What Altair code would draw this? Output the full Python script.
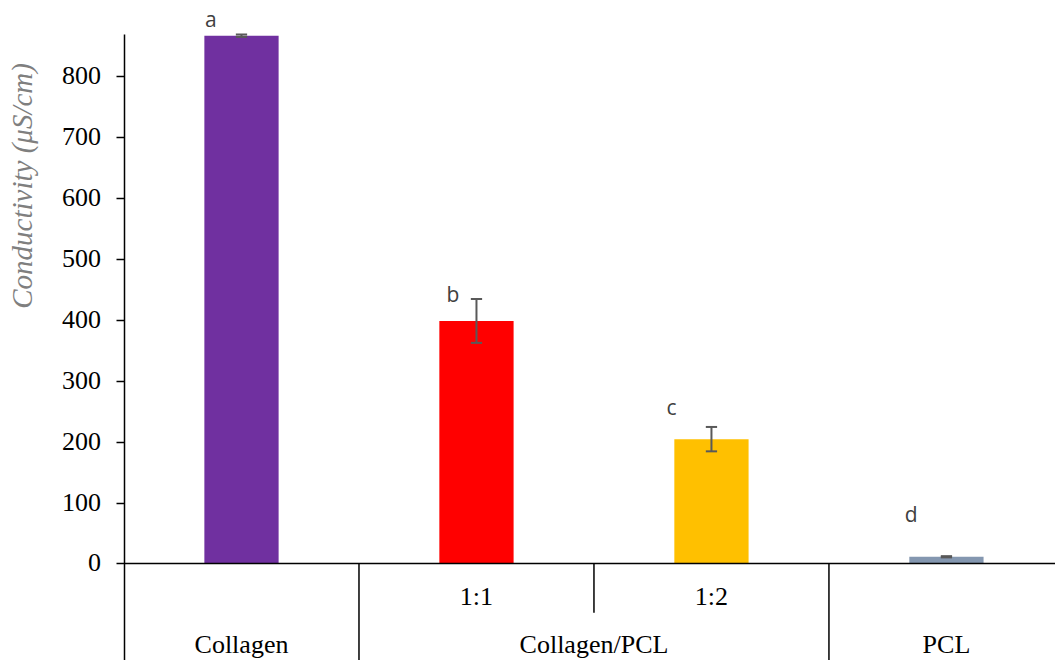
import altair as alt
import pandas as pd

# --- data -------------------------------------------------------------
categories = ["Collagen", "1:1", "1:2", "PCL"]
conductivity = [866, 398, 204, 11]        # µS/cm
error = [2, 36, 20, 1]                    # ± error bar half-length
letters = ["a", "b", "c", "d"]            # significance groups
bar_colors = ["#7030A0", "#FF0000", "#FFC000", "#8497B0"]
y_ticks = [0, 100, 200, 300, 400, 500, 600, 700, 800]
y_title = "Conductivity (μS/cm)"

# two-tier category axis
ratio_labels = ["", "1:1", "1:2", ""]
groups = ["Collagen", "Collagen/PCL", "PCL"]
group_span = [1, 2, 1]

# --- layout constants -------------------------------------------------
Y_MIN, Y_MAX = -158.4, 868.8      # lower part of the y range hosts the category tiers
X_MAX = 3.962                     # one unit per category slot
BAR_HALF = 0.158
CAP_HALF = 0.024
RATIO_ROW_Y = -68
GROUP_ROW_Y = -147
SHORT_DIVIDER_Y = -80.7
TICK_LABEL_X = -0.098             # right edge of the y tick labels
TITLE_X, TITLE_Y = -0.43, 619.5   # centre of the rotated y title
letter_dx = [-0.13, -0.10, -0.17, -0.15]
letter_y = [880, 429, 243, 68]

SERIF = "Liberation Serif"

x_scale = alt.Scale(domain=[0, X_MAX], nice=False, zero=False)
y_scale = alt.Scale(domain=[Y_MIN, Y_MAX], nice=False, zero=False)

# axis draws only the line and the tick marks; its text is drawn as marks below
y_axis = alt.Axis(
    values=y_ticks,
    title="",
    grid=False,
    labels=False,
    domainColor="black",
    domainWidth=1.5,
    tickColor="black",
    tickWidth=1.5,
    tickSize=8,
)


def X(field):
    return alt.X(field, scale=x_scale, axis=None)


def Y(field):
    # every layer shares the same y scale and the same axis definition
    return alt.Y(field, scale=y_scale, axis=y_axis)


bars_df = pd.DataFrame({
    "category": categories,
    "value": conductivity,
    "err": error,
    "letter": letters,
    "pos": [i + 0.5 for i in range(len(categories))],
    "dx": letter_dx,
    "ly": letter_y,
    "base": [0] * len(categories),
})
bars_df["x1"] = bars_df["pos"] - BAR_HALF
bars_df["x2"] = bars_df["pos"] + BAR_HALF
bars_df["lo"] = bars_df["value"] - bars_df["err"]
bars_df["hi"] = bars_df["value"] + bars_df["err"]
bars_df["cl"] = bars_df["pos"] - CAP_HALF
bars_df["cr"] = bars_df["pos"] + CAP_HALF
bars_df["lx"] = bars_df["pos"] + bars_df["dx"]

base = alt.Chart(bars_df)

bars = base.mark_bar().encode(
    x=X("x1:Q"),
    x2="x2:Q",
    y=Y("value:Q"),
    y2="base:Q",
    color=alt.Color("category:N", scale=alt.Scale(domain=categories, range=bar_colors), legend=None),
)

err_color = "#595959"
err_stem = base.mark_rule(color=err_color, strokeWidth=2).encode(
    x=X("pos:Q"), y=Y("lo:Q"), y2="hi:Q",
)
err_cap_hi = base.mark_rule(color=err_color, strokeWidth=2).encode(
    x=X("cl:Q"), x2="cr:Q", y=Y("hi:Q"),
)
err_cap_lo = base.mark_rule(color=err_color, strokeWidth=2).encode(
    x=X("cl:Q"), x2="cr:Q", y=Y("lo:Q"),
)

letter_text = base.mark_text(
    font="Open Sans", fontSize=21, color="#404040", align="center", baseline="alphabetic"
).encode(
    x=X("lx:Q"), y=Y("ly:Q"), text="letter:N",
)

# y tick labels
tick_df = pd.DataFrame({"v": y_ticks, "x": [TICK_LABEL_X] * len(y_ticks)})
tick_text = alt.Chart(tick_df).mark_text(
    font=SERIF, fontSize=26, color="black", align="right", baseline="middle"
).encode(
    x=X("x:Q"), y=Y("v:Q"), text=alt.Text("v:Q", format="d"),
)

# rotated y title
title_df = pd.DataFrame({"t": [y_title], "x": [TITLE_X], "y": [TITLE_Y]})
title_text = alt.Chart(title_df).mark_text(
    font=SERIF, fontSize=29, fontStyle="italic", color="#7F7F7F",
    align="center", baseline="middle", angle=270,
).encode(
    x=X("x:Q"), y=Y("y:Q"), text="t:N",
)

# horizontal category axis line at zero
zero_line = alt.Chart(pd.DataFrame({"y": [0]})).mark_rule(color="black", strokeWidth=1.5).encode(
    y=Y("y:Q"),
)

# dividers between categories: full height between groups, short inside a group
div_x, div_bottom = [], []
start = 0
for span in group_span:
    for k in range(1, span):
        div_x.append(start + k)
        div_bottom.append(SHORT_DIVIDER_Y)
    start += span
    if start < X_MAX:
        div_x.append(start)
        div_bottom.append(Y_MIN)
div_df = pd.DataFrame({"x": div_x, "bottom": div_bottom, "top": [0] * len(div_x)})
dividers = alt.Chart(div_df).mark_rule(color="black", strokeWidth=1.5).encode(
    x=X("x:Q"), y=Y("top:Q"), y2="bottom:Q",
)

ratio_df = pd.DataFrame({
    "label": ratio_labels,
    "pos": [i + 0.5 for i in range(len(ratio_labels))],
    "y": [RATIO_ROW_Y] * len(ratio_labels),
})
ratio_text = alt.Chart(ratio_df).mark_text(
    font=SERIF, fontSize=26, color="black", align="center", baseline="alphabetic"
).encode(
    x=X("pos:Q"), y=Y("y:Q"), text="label:N",
)

group_pos = []
start = 0
for span in group_span:
    group_pos.append(start + span / 2)
    start += span
group_df = pd.DataFrame({"label": groups, "pos": group_pos, "y": [GROUP_ROW_Y] * len(groups)})
group_text = alt.Chart(group_df).mark_text(
    font=SERIF, fontSize=26, color="black", align="center", baseline="alphabetic"
).encode(
    x=X("pos:Q"), y=Y("y:Q"), text="label:N",
)

chart = alt.layer(
    bars, err_stem, err_cap_hi, err_cap_lo, letter_text,
    tick_text, title_text,
    zero_line, dividers, ratio_text, group_text,
).properties(
    width=931,
    height=626,
    autosize=alt.AutoSizeParams(type="none"),
    padding={"left": 124, "top": 34, "right": 0, "bottom": 0},
    background="white",
).configure_view(stroke=None)

chart.save("out.html", embed_options={"renderer": "svg", "actions": False})
